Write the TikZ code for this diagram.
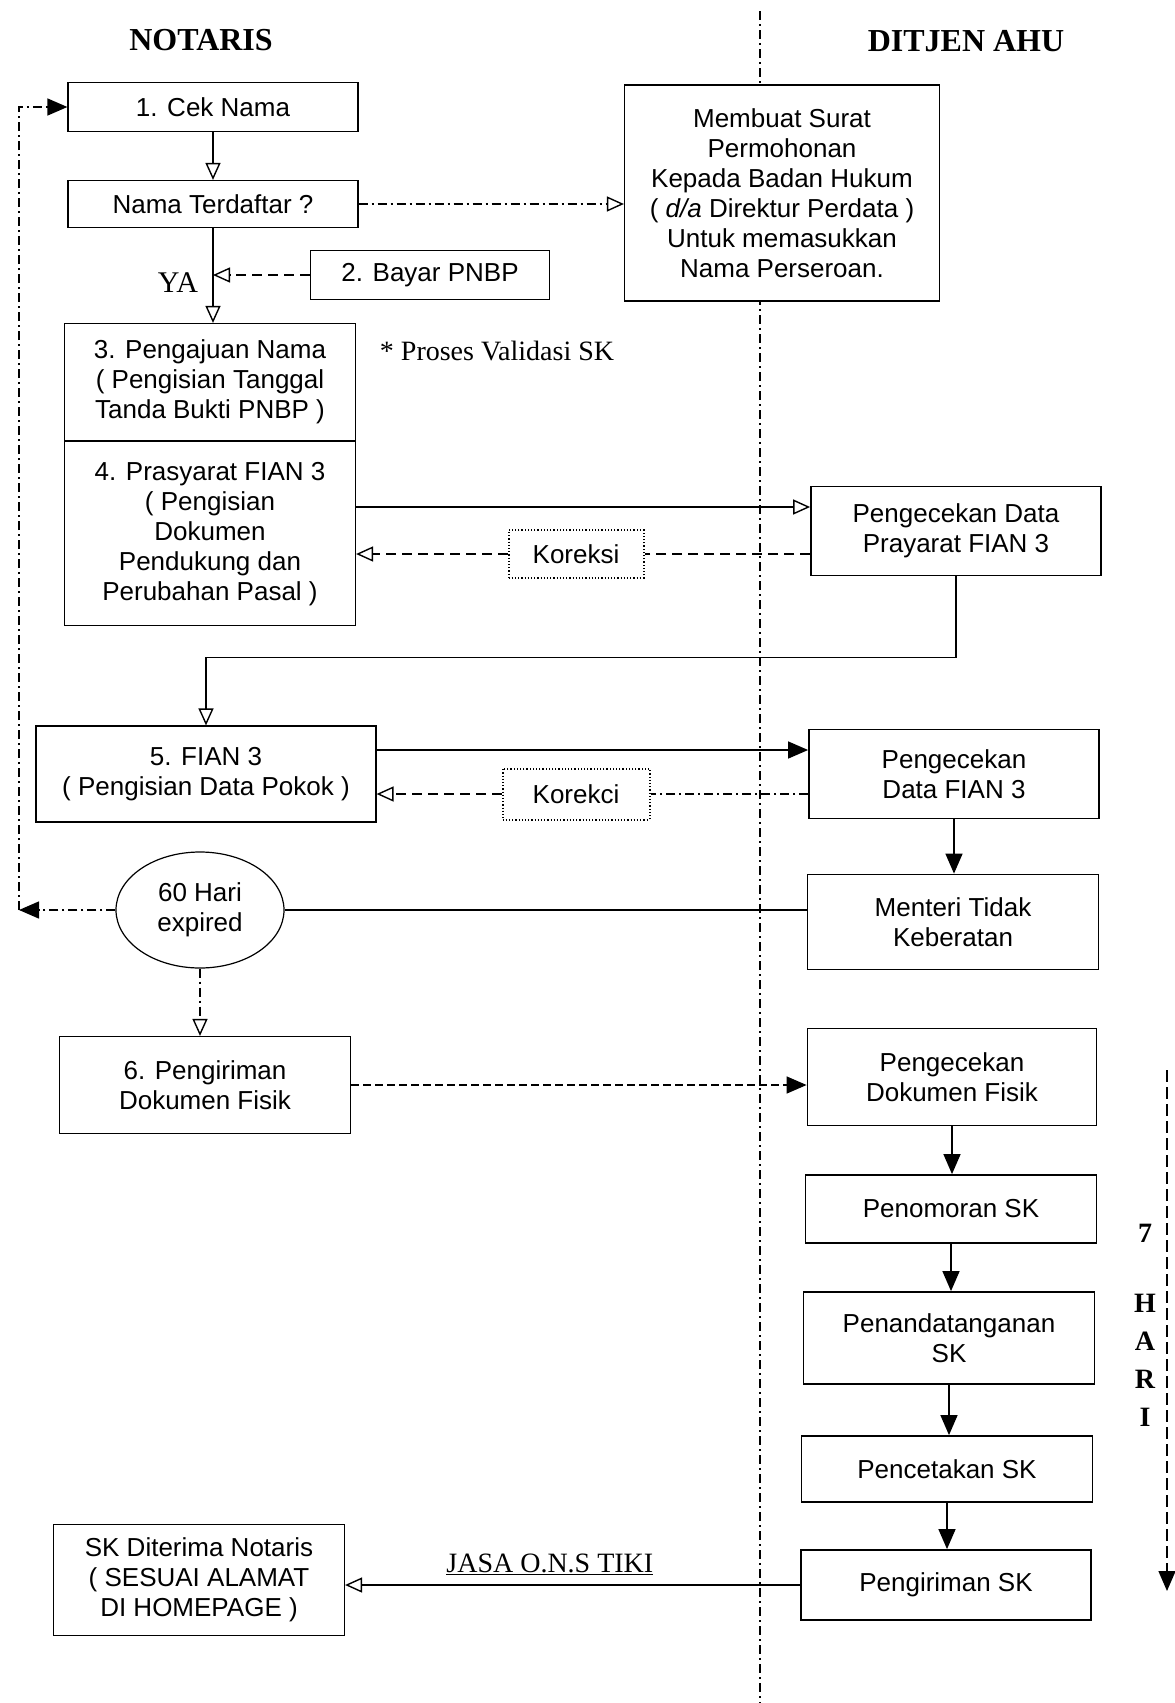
\documentclass[tikz,border=0pt]{standalone}
\usepackage{fontspec}
\setmainfont{Liberation Sans}
\newfontfamily\judul{Liberation Serif}
\usetikzlibrary{arrows.meta,shapes.geometric,positioning}

\begin{document}
\begin{tikzpicture}[x=1pt, y=-1pt,
    kotak/.style={draw, line width=1.2pt, fill=white, inner sep=0pt, align=center, font=\fontsize{26}{30}\selectfont},
    kotakdj/.style={kotak, line width=1.8pt},
    koreksi/.style={kotak, dotted, line width=2pt},
    garis/.style={line width=1.4pt},
    tutup/.style={-{Triangle[length=20pt,width=17pt]}},
    buka/.style={-{Triangle[open,length=17pt,width=15pt]}},
    kepala/.style={font=\judul\bfseries\fontsize{32}{36}\selectfont},
    serif/.style={font=\judul\fontsize{28}{32}\selectfont},
    putus/.style={dash pattern=on 9pt off 4pt on 2pt off 4pt},
    garisputus/.style={dash pattern=on 10pt off 6pt}]
    \useasboundingbox (0,0) rectangle (1175,1703);
    % garis batas
    \draw[putus, line width=1.2pt] (760,11) -- (760,1703);
    \node[kepala] (notaris) at (201,40) {NOTARIS};
    \node[kepala] (ditjen) at (966,41) {DITJEN AHU};
    % sisi notaris
    \node[kotak, minimum width=290pt, minimum height=49pt] (cek) at (213,107) {1. Cek Nama};
    \node[kotak, minimum width=290pt, minimum height=47pt] (terd) at (213,204) {Nama Terdaftar ?};
    \node[kotak, minimum width=239pt, minimum height=49pt] (bayar) at (430,275) {2. Bayar PNBP};
    \node[serif, font=\judul\fontsize{30}{34}\selectfont] (ya) at (178,283) {YA};
    \node[kotak, minimum width=291pt, minimum height=117pt] (aju) at (210,382) {3. Pengajuan Nama\\( Pengisian Tanggal\\Tanda Bukti PNBP )};
    \node[kotak, minimum width=291pt, minimum height=184pt, below=0pt of aju] (pras) {4. Prasyarat FIAN 3\\( Pengisian\\Dokumen\\Pendukung dan\\Perubahan Pasal )};
    \node[serif] (validasi) at (497,351) {* Proses Validasi SK};
    \node[kotak, minimum width=340pt, minimum height=96pt] (fian) at (206,774) {5. FIAN 3\\( Pengisian Data Pokok )};
    \node[draw, ellipse, line width=1.2pt, fill=white, minimum width=168pt, minimum height=116pt, inner sep=0pt, align=center, font=\fontsize{26}{30}\selectfont] (exp) at (200,910) {60 Hari\\expired};
    \node[kotak, minimum width=291pt, minimum height=97pt] (kirim) at (205,1085) {6. Pengiriman\\Dokumen Fisik};
    \node[kotak, minimum width=291pt, minimum height=111pt] (terima) at (199,1580) {SK Diterima Notaris\\( SESUAI ALAMAT\\DI HOMEPAGE )};
    % sisi ditjen
    \node[kotak, minimum width=315pt, minimum height=216pt] (surat) at (782,193) {Membuat Surat\\Permohonan\\Kepada Badan Hukum\\( \textit{d/a} Direktur Perdata )\\Untuk memasukkan\\Nama Perseroan.};
    \node[kotakdj, minimum width=290pt, minimum height=89pt] (cekpras) at (956,531) {Pengecekan Data\\Prayarat FIAN 3};
    \node[koreksi, minimum width=135pt, minimum height=48pt] (kor1) at (576,554) {Koreksi};
    \node[kotakdj, minimum width=290pt, minimum height=89pt] (cekfian) at (954,774) {Pengecekan\\Data FIAN 3};
    \node[koreksi, minimum width=147pt, minimum height=51pt] (kor2) at (576,794) {Korekci};
    \node[kotakdj, minimum width=291pt, minimum height=95pt] (menteri) at (953,922) {Menteri Tidak\\Keberatan};
    \node[kotakdj, minimum width=289pt, minimum height=97pt] (cekdok) at (952,1077) {Pengecekan\\Dokumen Fisik};
    \node[kotakdj, minimum width=291pt, minimum height=68pt] (nomor) at (951,1209) {Penomoran SK};
    \node[kotakdj, minimum width=291pt, minimum height=92pt] (ttd) at (949,1338) {Penandatanganan\\SK};
    \node[kotakdj, minimum width=291pt, minimum height=66pt] (cetak) at (947,1469) {Pencetakan SK};
    \node[kotakdj, minimum width=290pt, minimum height=70pt] (kirimsk) at (946,1585) {Pengiriman SK};
    % 7 hari
    \node[kepala, font=\judul\bfseries\fontsize{28}{38}\selectfont] (tujuh) at (1145,1233) {7};
    \node[kepala, align=center, font=\judul\bfseries\fontsize{28}{38}\selectfont] (hari) at (1145,1360) {H\\A\\R\\I};
    \coordinate (hari1) at (1167,1070);
    \coordinate (hari2) at (1167,1591);
    \draw[garis, dash pattern=on 12pt off 5pt, tutup] (hari1) -- (hari2);
    % penghubung
    \draw[garis, buka] (cek) -- (terd);
    \draw[garis, buka] (terd.south) -- (terd.south |- aju.north);
    \draw[garis, garisputus, buka] (bayar.west) -- (bayar.west -| terd.south);
    \draw[garis, putus, buka] (terd.east) -- (terd.east -| surat.west);
    \coordinate (pras1) at ([yshift=24pt]cekpras.west);
    \draw[garis, buka] (pras1 -| pras.east) -- (pras1);
    \coordinate (pras2) at ([yshift=-23pt]cekpras.west);
    \draw[garis, garisputus] (pras2) -- (kor1.east);
    \draw[garis, garisputus, buka] (kor1.west) -- (kor1.west -| pras.east);
    \draw[garis, buka] (cekpras.south) -- ++(0,81) -| (fian.north);
    \coordinate (fian1) at ([yshift=24pt]cekfian.west);
    \draw[garis, tutup] (fian1 -| fian.east) -- (fian1);
    \coordinate (fian2) at ([yshift=-20pt]cekfian.west);
    \draw[garis, putus] (fian2) -- (kor2.east);
    \draw[garis, garisputus, buka] (kor2.west) -- (kor2.west -| fian.east);
    \draw[garis, tutup] (cekfian.south) -- (cekfian.south |- menteri.north);
    \draw[garis] (exp.east -| menteri.west) -- (exp.east);
    \coordinate (kiri) at (19,910);
    \draw[garis, putus, tutup] (exp.west) -- (kiri);
    \draw[garis, putus, tutup] (kiri) |- (cek.west);
    \draw[garis, putus, buka] (exp.south) -- (exp.south |- kirim.north);
    \draw[garis, dash pattern=on 8pt off 4pt, tutup] (kirim.east) -- (kirim.east -| cekdok.west);
    \draw[garis, tutup] (cekdok.south) -- (cekdok.south |- nomor.north);
    \draw[garis, tutup] (nomor.south) -- (nomor.south |- ttd.north);
    \draw[garis, tutup] (ttd.south) -- (ttd.south |- cetak.north);
    \draw[garis, tutup] (cetak.south) -- (cetak.south |- kirimsk.north);
    \draw[garis, buka] (kirimsk.west) -- (kirimsk.west -| terima.east) node[serif, pos=0.55, above=6pt] (jasa) {\underline{JASA O.N.S TIKI}};
\end{tikzpicture}
\end{document}
